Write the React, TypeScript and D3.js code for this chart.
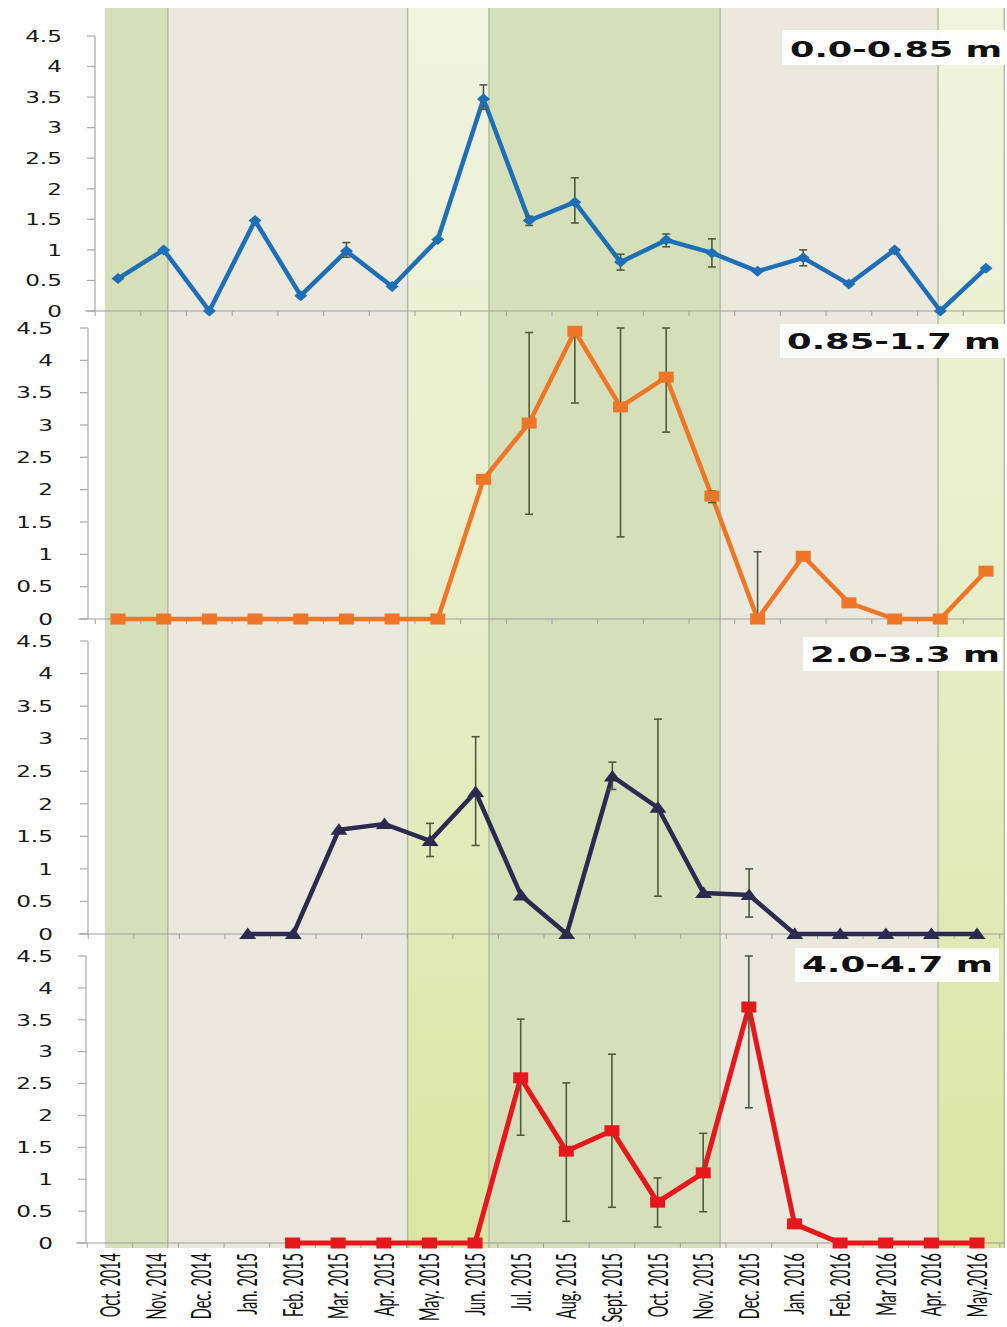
import React, { useRef, useEffect } from "react";
import * as d3 from "d3";

// month categories on the shared x axis
const months = [
  "Oct. 2014", "Nov. 2014", "Dec. 2014", "Jan. 2015", "Feb. 2015", "Mar. 2015",
  "Apr. 2015", "May. 2015", "Jun. 2015", "Jul. 2015", "Aug. 2015", "Sept. 2015",
  "Oct. 2015", "Nov. 2015", "Dec. 2015", "Jan. 2016", "Feb. 2016", "Mar 2016",
  "Apr. 2016", "May.2016",
];

const yTicks = [0, 0.5, 1, 1.5, 2, 2.5, 3, 3.5, 4, 4.5];

// depth 0.0-0.85 m
const s1 = [0.53, 1.0, 0, 1.48, 0.25, 0.98, 0.4, 1.17, 3.47, 1.48, 1.78, 0.8, 1.16, 0.95, 0.65, 0.87, 0.44, 1.0, 0, 0.7];
const s1Lo = [null, null, null, null, null, 0.88, null, null, 3.3, 1.4, 1.44, 0.67, 1.05, 0.72, null, 0.74, null, null, null, null];
const s1Hi = [null, null, null, null, null, 1.12, null, null, 3.7, 1.55, 2.18, 0.93, 1.26, 1.18, null, 1.0, null, null, null, null];

// depth 0.85-1.7 m
const s2 = [0, 0, 0, 0, 0, 0, 0, 0, 2.16, 3.03, 4.45, 3.28, 3.74, 1.9, 0, 0.97, 0.25, 0, 0, 0.74];
const s2Lo = [null, null, null, null, null, null, null, null, null, 1.62, 3.34, 1.27, 2.89, 1.8, 0, null, null, null, null, null];
const s2Hi = [null, null, null, null, null, null, null, null, null, 4.43, 4.45, 4.5, 4.5, 1.98, 1.04, null, null, null, null, null];

// depth 2.0-3.3 m
const s3 = [null, null, null, 0, 0, 1.6, 1.69, 1.43, 2.18, 0.59, 0, 2.42, 1.94, 0.63, 0.6, 0, 0, 0, 0, 0];
const s3Lo = [null, null, null, null, null, null, null, 1.19, 1.36, null, null, 2.22, 0.58, null, 0.26, null, null, null, null, null];
const s3Hi = [null, null, null, null, null, null, null, 1.7, 3.03, null, null, 2.64, 3.3, null, 1.0, null, null, null, null, null];

// depth 4.0-4.7 m
const s4 = [null, null, null, null, 0, 0, 0, 0, 0, 2.59, 1.44, 1.76, 0.64, 1.1, 3.7, 0.3, 0, 0, 0, 0];
const s4Lo = [null, null, null, null, null, null, null, null, null, 1.69, 0.34, 0.56, 0.25, 0.49, 2.12, null, null, null, null, null];
const s4Hi = [null, null, null, null, null, null, null, null, null, 3.51, 2.51, 2.96, 1.02, 1.72, 4.5, null, null, null, null, null];

// seasonal background bands, in month-index units
const bandEdges = [-0.29, 1.09, 6.34, 8.12, 13.18, 17.95, 19.4];
const bandKinds = ["green", "beige", "light", "green", "beige", "light"];

const W = 1007;
const H = 1327;

const panels = [
  { title: "0.0-0.85 m", values: s1, lo: s1Lo, hi: s1Hi, color: "#1f6fb6", marker: "diamond",
    top: 36, zero: 311, axisX: 95, labelX: 62, x0: 118, x1: 986,
    box: [782, 30, 225, 35], textX: 790, textW: 212, base: 57 },
  { title: "0.85-1.7 m", values: s2, lo: s2Lo, hi: s2Hi, color: "#ee7626", marker: "square",
    top: 328, zero: 619, axisX: 88, labelX: 53, x0: 118, x1: 986,
    box: [780, 324, 227, 34], textX: 787, textW: 214, base: 349 },
  { title: "2.0-3.3 m", values: s3, lo: s3Lo, hi: s3Hi, color: "#2d2a4f", marker: "triangle",
    top: 641, zero: 934, axisX: 88, labelX: 53, x0: 111, x1: 977,
    box: [803, 637, 200, 34], textX: 810, textW: 190, base: 662 },
  { title: "4.0-4.7 m", values: s4, lo: s4Lo, hi: s4Hi, color: "#e5181d", marker: "square",
    top: 956, zero: 1243, axisX: 86, labelX: 53, x0: 110, x1: 977,
    box: [795, 948, 204, 34], textX: 802, textW: 191, base: 972 },
];

const App: React.FC = () => {
  const ref = useRef<SVGSVGElement>(null);

  useEffect(() => {
    const svg = d3.select(ref.current);
    svg.selectAll("*").remove();

    const defs = svg.append("defs");
    const grad = defs.append("linearGradient")
      .attr("id", "lightBand").attr("x1", 0).attr("y1", 0).attr("x2", 0).attr("y2", 1);
    grad.append("stop").attr("offset", "0%").attr("stop-color", "#f1f4df");
    grad.append("stop").attr("offset", "45%").attr("stop-color", "#e8eecb");
    grad.append("stop").attr("offset", "100%").attr("stop-color", "#dbe6a3");

    const bandFill: any = { green: "#d5e0bb", beige: "#ebe8de", light: "url(#lightBand)" };

    // background bands use the top panel's month scale
    const bandX = d3.scaleLinear().domain([0, months.length - 1]).range([panels[0].x0, panels[0].x1]);
    const bandTop = 8, bandBottom = 1248;
    const bg = svg.append("g");
    bandKinds.forEach((k, i) => {
      bg.append("rect")
        .attr("x", bandX(bandEdges[i]))
        .attr("y", bandTop)
        .attr("width", bandX(bandEdges[i + 1]) - bandX(bandEdges[i]))
        .attr("height", bandBottom - bandTop)
        .attr("fill", bandFill[k]);
    });
    bandEdges.slice(1).forEach((e) => {
      bg.append("line")
        .attr("x1", bandX(e)).attr("x2", bandX(e))
        .attr("y1", bandTop).attr("y2", bandBottom)
        .attr("stroke", "#b5bca4").attr("stroke-width", 1.5);
    });

    panels.forEach((p, pi) => {
      const x = d3.scalePoint<number>().domain(d3.range(months.length)).range([p.x0, p.x1]);
      const y = d3.scaleLinear().domain([0, 4.5]).range([p.zero, p.top]);
      const step = x.step();
      const g = svg.append("g");

      // y axis
      g.append("line")
        .attr("x1", p.axisX).attr("x2", p.axisX)
        .attr("y1", y(4.5)).attr("y2", y(0))
        .attr("stroke", "#a9a9a9").attr("stroke-width", 1.2);
      yTicks.forEach((t) => {
        g.append("line")
          .attr("x1", p.axisX - 8).attr("x2", p.axisX)
          .attr("y1", y(t)).attr("y2", y(t))
          .attr("stroke", "#a9a9a9").attr("stroke-width", 1.2);
        g.append("g")
          .attr("transform", `translate(${p.labelX},${y(t)})`)
          .append("text")
          .attr("transform", "scale(1.45,1)")
          .attr("text-anchor", "end")
          .attr("dy", "0.36em")
          .attr("font-family", "DejaVu Sans, Verdana, sans-serif")
          .attr("font-size", 16)
          .attr("fill", "#1a1a1a")
          .text(String(t));
      });

      // x axis (zero line) with ticks between categories
      g.append("line")
        .attr("x1", p.axisX - 10).attr("x2", 1005)
        .attr("y1", y(0)).attr("y2", y(0))
        .attr("stroke", "#a0a0a0").attr("stroke-width", 1.2);
      d3.range(-1, months.length).forEach((i) => {
        const tx = (x(Math.max(i, 0)) as number) + (i < 0 ? -step / 2 : step / 2);
        if (tx < p.axisX || tx > 1005) return;
        g.append("line")
          .attr("x1", tx).attr("x2", tx)
          .attr("y1", y(0)).attr("y2", y(0) + 5)
          .attr("stroke", "#a0a0a0").attr("stroke-width", 1);
      });

      const idx = d3.range(months.length);

      // series line
      const line = d3.line<number>()
        .defined((i) => p.values[i] != null)
        .x((i) => x(i) as number)
        .y((i) => y(p.values[i] as number));
      g.append("path")
        .attr("d", line(idx))
        .attr("fill", "none")
        .attr("stroke", p.color)
        .attr("stroke-width", pi === 3 ? 5 : 4.5)
        .attr("stroke-linejoin", "miter");

      // error bars
      idx.filter((i) => p.lo[i] != null).forEach((i) => {
        const cx = x(i) as number;
        const y1 = y(p.lo[i] as number), y2 = y(p.hi[i] as number);
        const eb = g.append("g").attr("stroke", "#4e5c3e").attr("stroke-width", 1.6);
        eb.append("line").attr("x1", cx).attr("x2", cx).attr("y1", y1).attr("y2", y2);
        eb.append("line").attr("x1", cx - 4).attr("x2", cx + 4).attr("y1", y1).attr("y2", y1);
        eb.append("line").attr("x1", cx - 4).attr("x2", cx + 4).attr("y1", y2).attr("y2", y2);
      });

      // markers
      idx.filter((i) => p.values[i] != null).forEach((i) => {
        const cx = x(i) as number, cy = y(p.values[i] as number);
        if (p.marker === "square") {
          g.append("rect")
            .attr("x", cx - 7.5).attr("y", cy - 5.5)
            .attr("width", 15).attr("height", 11)
            .attr("fill", p.color);
        } else if (p.marker === "diamond") {
          g.append("path")
            .attr("d", `M${cx - 6.5},${cy} L${cx},${cy - 5.5} L${cx + 6.5},${cy} L${cx},${cy + 5.5} Z`)
            .attr("fill", p.color);
        } else {
          g.append("path")
            .attr("d", `M${cx - 8.5},${cy + 5} L${cx},${cy - 6.5} L${cx + 8.5},${cy + 5} Z`)
            .attr("fill", p.color);
        }
      });

      // depth title box
      g.append("rect")
        .attr("x", p.box[0]).attr("y", p.box[1])
        .attr("width", p.box[2]).attr("height", p.box[3])
        .attr("fill", "#ffffff").attr("opacity", 0.95);
      g.append("text")
        .attr("x", p.textX).attr("y", p.base)
        .attr("textLength", p.textW)
        .attr("lengthAdjust", "spacingAndGlyphs")
        .attr("font-family", "DejaVu Sans, Verdana, sans-serif")
        .attr("font-weight", "bold")
        .attr("font-size", 22)
        .attr("fill", "#111")
        .text(p.title);

      // month labels under the bottom panel
      if (pi === panels.length - 1) {
        idx.forEach((i) => {
          g.append("g")
            .attr("transform", `translate(${(x(i) as number) + 10},${y(0) + 10}) rotate(-90) scale(1,1.85)`)
            .append("text")
            .attr("text-anchor", "end")
            .attr("font-family", "Lato, Open Sans, sans-serif")
            .attr("font-size", 14.5)
            .attr("fill", "#111")
            .text(months[i]);
        });
      }
    });
  }, []);

  return (
    <svg
      ref={ref}
      width={W}
      height={H}
      style={{ position: "absolute", left: 0, top: 0, background: "#ffffff" }}
    />
  );
};

export default App;
